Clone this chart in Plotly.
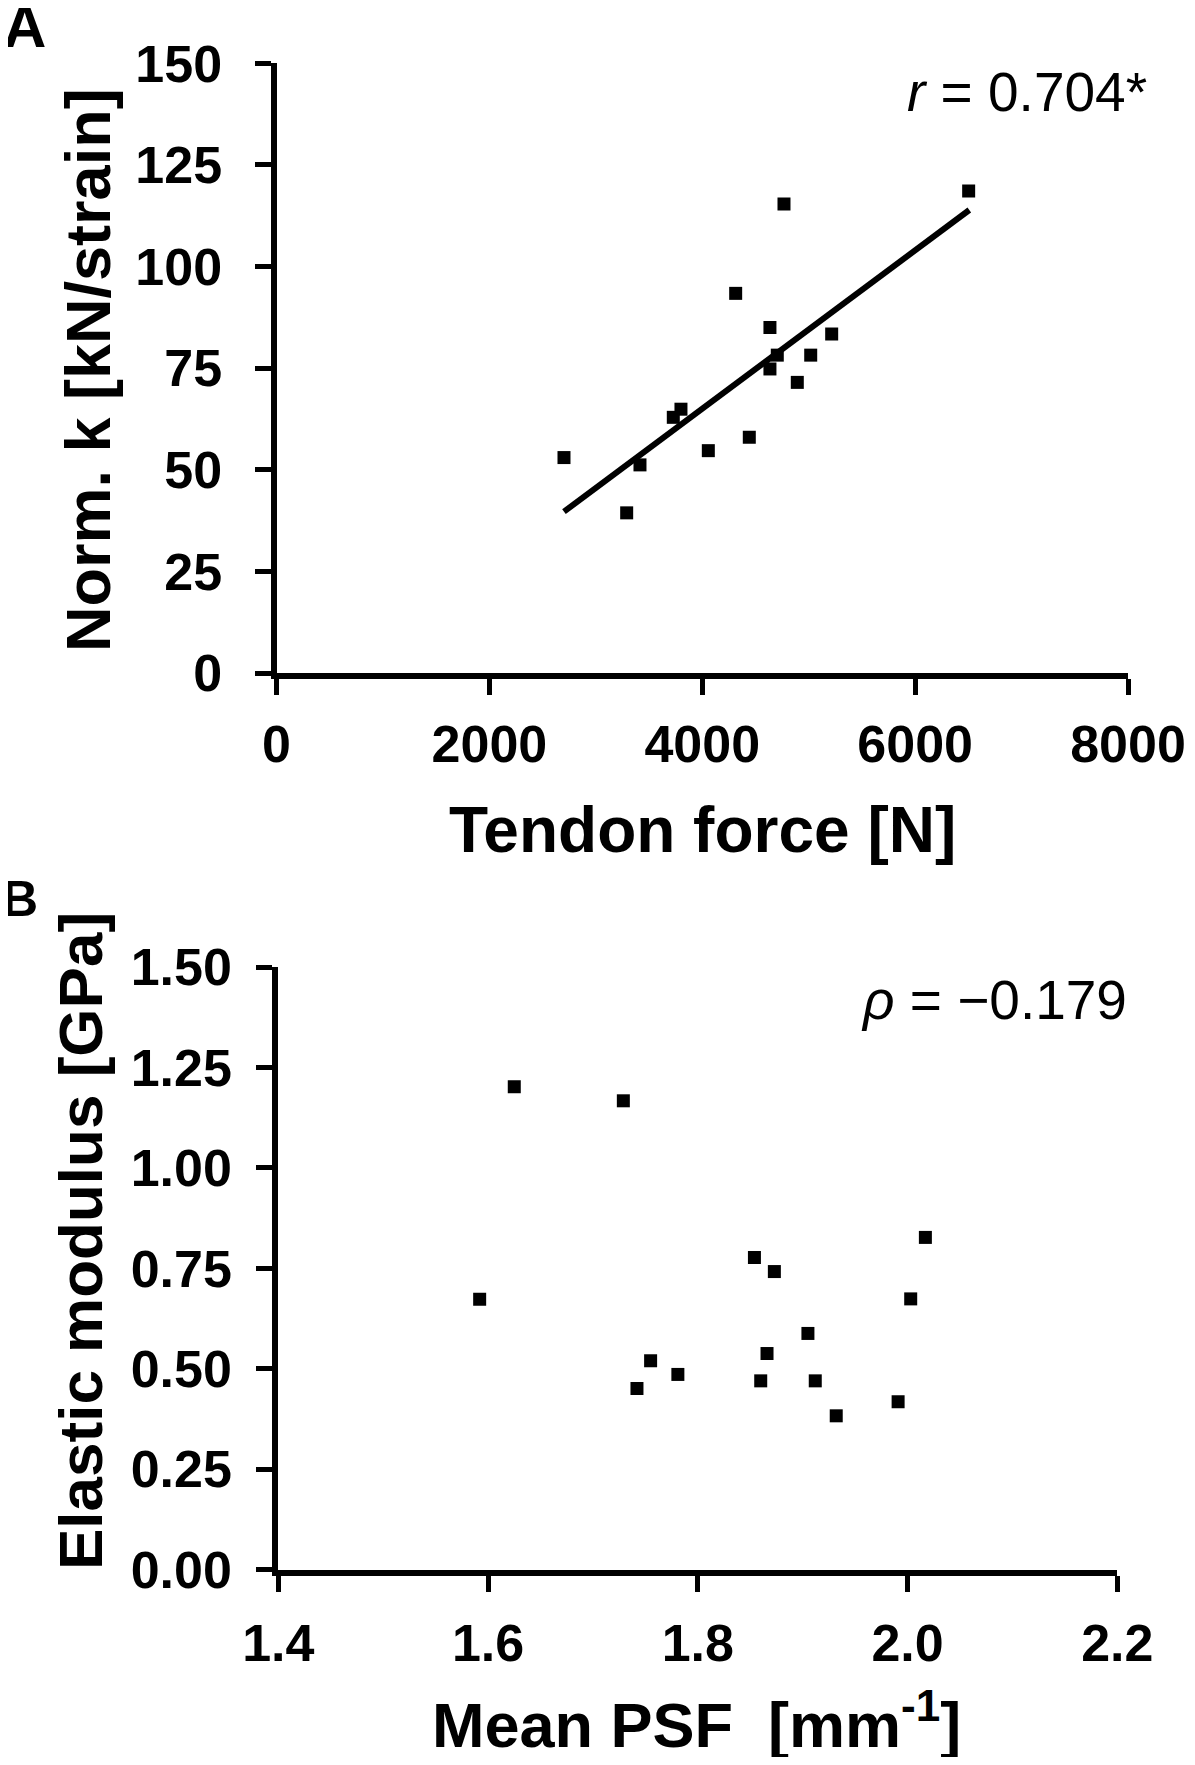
import plotly.graph_objects as go

# Panel A: tendon force vs normalised stiffness
force_n = [2701, 3290, 3415, 3728, 3800, 4057, 4314, 4442, 4636, 4636,
           4705, 4768, 4893, 5019, 5216, 6503]
norm_k = [53.0, 39.4, 51.2, 62.9, 64.9, 54.7, 93.4, 58.0, 85.0, 74.8,
          78.2, 115.4, 71.5, 78.2, 83.4, 118.6]
# regression line as drawn in the figure
fit_force = [2701, 6509]
fit_k = [39.7, 113.9]

# Panel B: mean PSF vs elastic modulus
psf = [1.625, 1.729, 1.592, 1.755, 1.781, 1.742, 2.017, 1.854,
       1.873, 2.003, 1.905, 1.866, 1.860, 1.912, 1.991, 1.932]
modulus = [1.202, 1.167, 0.673, 0.520, 0.486, 0.451, 0.827, 0.777,
           0.742, 0.674, 0.588, 0.538, 0.470, 0.470, 0.418, 0.383]

xticks_a = [0, 2000, 4000, 6000, 8000]
yticks_a = [0, 25, 50, 75, 100, 125, 150]
xticks_b = [1.4, 1.6, 1.8, 2.0, 2.2]
yticks_b = [0.0, 0.25, 0.5, 0.75, 1.0, 1.25, 1.5]

FONT = "Liberation Sans, Arial, sans-serif"
# page body has an 8px margin, so the figure is a bit smaller than the window
OFF = 8
W, H = 1195 - 2 * OFF, 1765 - 2 * OFF

fig = go.Figure()

marker = dict(symbol="square", size=13, color="black")
fig.add_trace(go.Scatter(x=force_n, y=norm_k, mode="markers", marker=marker,
                         xaxis="x", yaxis="y", showlegend=False))
fig.add_trace(go.Scatter(x=fit_force, y=fit_k, mode="lines",
                         line=dict(color="black", width=6),
                         xaxis="x", yaxis="y", showlegend=False))
fig.add_trace(go.Scatter(x=psf, y=modulus, mode="markers", marker=marker,
                         xaxis="x2", yaxis="y2", showlegend=False))

axis_common = dict(showline=True, linecolor="black", linewidth=6,
                   ticks="outside", ticklen=16, tickwidth=5, tickcolor="black",
                   showgrid=False, zeroline=False, automargin=False,
                   tickfont=dict(family=FONT, size=52, color="black", weight="bold"))

def px_x(p):
    return (p - OFF) / W

def px_y(p):
    return 1 - (p - OFF) / H

fig.update_layout(
    width=W, height=H,
    margin=dict(l=0, r=0, t=0, b=0),
    paper_bgcolor="white", plot_bgcolor="white",
    xaxis=dict(domain=[px_x(276.5), px_x(1128)], range=[0, 8000],
               tickvals=xticks_a, ticktext=[str(v) for v in xticks_a],
               anchor="y", ticklabelstandoff=5, **axis_common),
    yaxis=dict(domain=[px_y(673), px_y(63.3)], range=[0, 150],
               tickvals=yticks_a, anchor="x", ticklabelstandoff=22, **axis_common),
    xaxis2=dict(domain=[px_x(278.3), px_x(1117.3)], range=[1.4, 2.2],
                tickvals=xticks_b, ticktext=[f"{v:.1f}" for v in xticks_b],
                anchor="y2", ticklabelstandoff=7, **axis_common),
    yaxis2=dict(domain=[px_y(1569.7), px_y(967)], range=[0, 1.5],
                tickvals=yticks_b, ticktext=[f"{v:.2f}" for v in yticks_b],
                anchor="x2", ticklabelstandoff=14, **axis_common),
)

def bold(size):
    return dict(family=FONT, size=size, color="black", weight="bold")

note_font = dict(family=FONT, size=55, color="black")

annotations = [
    dict(text="A", x=px_x(24), y=px_y(27), font=bold(60)),
    dict(text="B", x=px_x(20), y=px_y(899), font=bold(50)),
    dict(text="Norm. k [kN/strain]", x=px_x(88), y=px_y(370), textangle=-90, font=bold(63)),
    dict(text="Tendon force [N]", x=px_x(702), y=px_y(830), font=bold(64)),
    dict(text="Elastic modulus [GPa]", x=px_x(80), y=px_y(1241), textangle=-90, font=bold(62)),
    dict(text="Mean PSF\u00a0\u00a0[mm<sup>-1</sup>]", x=px_x(697), y=px_y(1720), font=bold(63)),
    dict(text="<i>r</i> = 0.704*", x=px_x(1027), y=px_y(92), font=note_font),
    dict(text="<i>ρ</i> = \u22120.179", x=px_x(994), y=px_y(1000), font=note_font),
]
for a in annotations:
    fig.add_annotation(xref="paper", yref="paper", showarrow=False,
                       xanchor="center", yanchor="middle", **a)

fig.write_html("out.html")
